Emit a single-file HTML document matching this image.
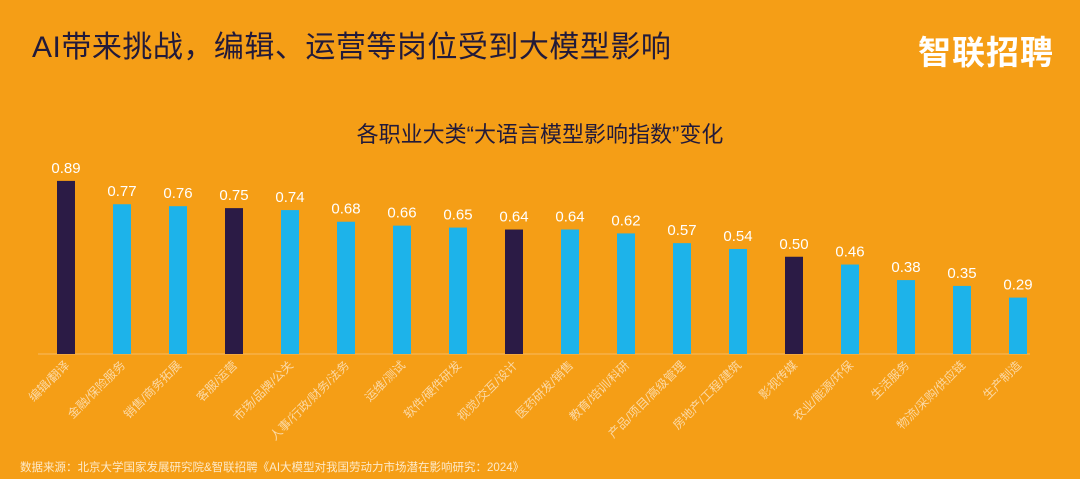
<!DOCTYPE html><html><head><meta charset="utf-8"><style>
body{margin:0;width:1080px;height:479px;background:#f59e16;overflow:hidden;font-family:"Liberation Sans","Noto Sans CJK SC",sans-serif;position:relative}
.t{position:absolute;left:32px;top:22px;font-size:30px;color:#221a3a;letter-spacing:0.5px}
.logo{position:absolute;right:26px;top:26px;font-size:33px;color:#fff;font-weight:bold;letter-spacing:1px}
.s{position:absolute;left:0;width:1080px;top:117px;text-align:center;font-size:22px;color:#221a3a}
.f{position:absolute;left:20px;top:459px;font-size:11.5px;color:#fde9c8}
</style></head><body>
<div class="t">AI带来挑战，编辑、运营等岗位受到大模型影响</div>
<div class="logo">智联招聘</div>
<div class="s">各职业大类“大语言模型影响指数”变化</div>
<svg width="1080" height="479" style="position:absolute;left:0;top:0">
<line x1="38" y1="354" x2="1030" y2="354" stroke="#f7bb62" stroke-width="1"/>
<g id="g" font-family="Liberation Sans,Noto Sans CJK SC,sans-serif"></g>
</svg>
<div class="f">数据来源：北京大学国家发展研究院&amp;智联招聘《AI大模型对我国劳动力市场潜在影响研究：2024》</div>
<script>
var d=[["编辑/翻译",.89,1],["金融/保险服务",.77],["销售/商务拓展",.76],["客服/运营",.75,1],["市场/品牌/公关",.74],["人事/行政/财务/法务",.68],["运维/测试",.66],["软件/硬件研发",.65],["视觉/交互/设计",.64,1],["医药研发/销售",.64],["教育/培训/科研",.62],["产品/项目/高级管理",.57],["房地产/工程/建筑",.54],["影视传媒",.50,1],["农业/能源/环保",.46],["生活服务",.38],["物流/采购/供应链",.35],["生产制造",.29]];
var s="";d.forEach(function(e,i){var x=66+i*56.0,h=e[1]*194.5,y=354-h;
s+='<rect x="'+(x-9)+'" y="'+y+'" width="18" height="'+h+'" fill="'+(e[2]?'#2b1b45':'#1db3ea')+'"/>';
s+='<text x="'+x+'" y="'+(y-8)+'" text-anchor="middle" font-size="15" fill="#fff">'+e[1].toFixed(2)+'</text>';
s+='<text x="'+(x+4)+'" y="'+366+'" text-anchor="end" font-size="12" fill="#fbd9a6" transform="rotate(-45 '+(x+4)+' 366)">'+e[0]+'</text>';});
document.getElementById("g").innerHTML=s;
</script>
</body></html>
